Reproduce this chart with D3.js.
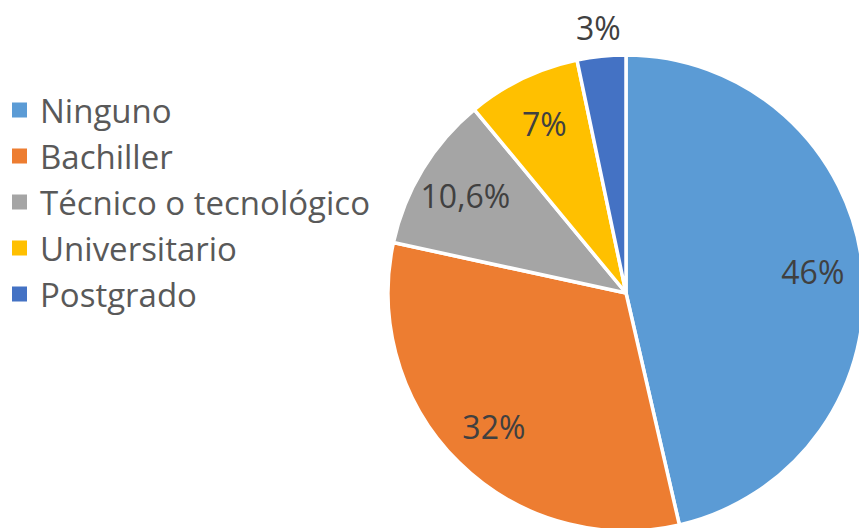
<!DOCTYPE html>
<html>
<head>
<meta charset="utf-8">
<script src="https://cdn.jsdelivr.net/npm/d3@7"></script>
<style>
  body { margin: 0; background: #fff; }
  svg { display: block; }
</style>
</head>
<body>
<div id="chart"></div>
<script>
var svgWidth = 859;
var svgHeight = 528;

// Data (slice sizes, labels as printed)
var categories = ["Ninguno", "Bachiller", "Técnico o tecnológico", "Universitario", "Postgrado"];
var values = [46.4, 32, 10.6, 7.7, 3.3];
var labels = ["46%", "32%", "10,6%", "7%", "3%"];
var colors = ["#5B9BD5", "#ED7D31", "#A5A5A5", "#FFC000", "#4472C4"];

var font = "'Open Sans', sans-serif";

var svg = d3.select("#chart")
  .append("svg")
  .attr("width", svgWidth)
  .attr("height", svgHeight);

var radius = 238;
var pieGroup = svg.append("g")
  .attr("transform", "translate(626, 293)");

var pie = d3.pie().sort(null).value(d => d);
var arcs = pie(values);

var arc = d3.arc().innerRadius(0).outerRadius(radius);

pieGroup.selectAll("path")
  .data(arcs)
  .enter()
  .append("path")
  .attr("d", arc)
  .attr("fill", (d, i) => colors[i])
  .attr("stroke", "#fff")
  .attr("stroke-width", 3.5)
  .attr("stroke-linejoin", "round");

// Labels: inside for big slices, outside for the small one
var insideArc = d3.arc().innerRadius(radius * 0.79).outerRadius(radius * 0.79);
var outsideArc = d3.arc().innerRadius(radius * 1.12).outerRadius(radius * 1.12);

pieGroup.selectAll(".pieLabel")
  .data(arcs)
  .enter()
  .append("text")
  .classed("pieLabel", true)
  .attr("transform", d => {
    var c = (d.value < 5 ? outsideArc : insideArc).centroid(d);
    return `translate(${c[0]}, ${c[1]})`;
  })
  .attr("text-anchor", "middle")
  .attr("dominant-baseline", "central")
  .attr("font-family", font)
  .attr("font-size", "32px")
  .attr("fill", "#404040")
  .text((d, i) => labels[i]);

// Legend
var legend = svg.append("g")
  .attr("transform", "translate(12, 110)");

var item = legend.selectAll(".item")
  .data(categories)
  .enter()
  .append("g")
  .classed("item", true)
  .attr("transform", (d, i) => `translate(0, ${i * 46})`);

item.append("rect")
  .attr("x", 0)
  .attr("y", -7.5)
  .attr("width", 15)
  .attr("height", 15)
  .attr("fill", (d, i) => colors[i]);

item.append("text")
  .attr("x", 28)
  .attr("y", 0)
  .attr("dominant-baseline", "central")
  .attr("font-family", font)
  .attr("font-size", "33px")
  .attr("fill", "#595959")
  .text(d => d);
</script>
</body>
</html>
